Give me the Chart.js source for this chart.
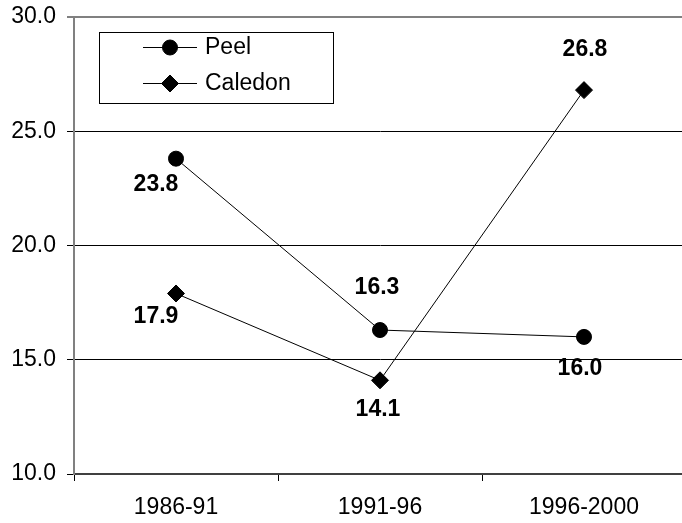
<!DOCTYPE html>
<html>
<head>
<meta charset="utf-8">
<script src="https://cdn.jsdelivr.net/npm/chart.js@4/dist/chart.umd.min.js"></script>
<style>
html, body { margin: 0; padding: 0; overflow: hidden; background: #fff; width: 682px; height: 523px; }
canvas { display: block; }
</style>
</head>
<body>
<canvas id="c" width="686" height="523" style="width:686px;height:523px"></canvas>
<script>
const categories = ["1986-91", "1991-96", "1996-2000"];
const peelValues = [23.8, 16.3, 16.0];
const caledonValues = [17.9, 14.1, 26.8];
const seriesNames = ["Peel", "Caledon"];
const yTicks = [10, 15, 20, 25, 30];

const FONT = "'Liberation Sans', Arial, sans-serif";
// label offsets (style only) per dataset, per point
const labelOffsets = [
  [[-20, 26], [-3, -42], [-4, 32]],
  [[-20, 23], [-2, 29], [1, -40]]
];

const dataLabels = {
  id: 'dataLabels',
  afterDatasetsDraw(chart) {
    const ctx = chart.ctx;
    ctx.save();
    ctx.font = "bold 23px " + FONT;
    ctx.fillStyle = '#000';
    ctx.textAlign = 'center';
    ctx.textBaseline = 'middle';
    chart.data.datasets.forEach((ds, di) => {
      const meta = chart.getDatasetMeta(di);
      meta.data.forEach((pt, i) => {
        const off = labelOffsets[di][i];
        ctx.fillText(ds.data[i].toFixed(1), pt.x + off[0], pt.y + off[1]);
      });
    });
    ctx.restore();
  }
};

const boxLegend = {
  id: 'boxLegend',
  afterDraw(chart) {
    const ctx = chart.ctx;
    ctx.save();
    ctx.fillStyle = '#fff';
    ctx.fillRect(99.5, 32.5, 234, 71);
    ctx.strokeStyle = '#000';
    ctx.lineWidth = 1;
    ctx.strokeRect(99.5, 32.5, 234, 71);
    const rows = [47, 83];
    chart.data.datasets.forEach((ds, di) => {
      const y = rows[di];
      ctx.beginPath();
      ctx.moveTo(143, y + 0.5);
      ctx.lineTo(197, y + 0.5);
      ctx.strokeStyle = '#000';
      ctx.lineWidth = 1;
      ctx.stroke();
      ctx.fillStyle = '#000';
      ctx.strokeStyle = '#000';
      Chart.helpers.drawPoint(ctx, {
        pointStyle: ds.pointStyle,
        radius: ds.pointRadius,
        borderWidth: 1
      }, 170, y + 0.5);
      ctx.font = "23px " + FONT;
      ctx.textAlign = 'left';
      ctx.textBaseline = 'middle';
      ctx.fillStyle = '#000';
      ctx.fillText(ds.label, 205, y + 1);
    });
    ctx.restore();
  }
};

new Chart(document.getElementById('c'), {
  type: 'line',
  data: {
    labels: categories,
    datasets: [
      {
        label: seriesNames[0],
        data: peelValues,
        borderColor: '#000',
        backgroundColor: '#000',
        borderWidth: 1,
        pointStyle: 'circle',
        pointRadius: 7.5,
        pointBackgroundColor: '#000',
        pointBorderColor: '#000',
        pointBorderWidth: 1,
        tension: 0
      },
      {
        label: seriesNames[1],
        data: caledonValues,
        borderColor: '#000',
        backgroundColor: '#000',
        borderWidth: 1,
        pointStyle: 'rectRot',
        pointRadius: 8.5,
        pointBackgroundColor: '#000',
        pointBorderColor: '#000',
        pointBorderWidth: 1,
        tension: 0
      }
    ]
  },
  options: {
    responsive: false,
    animation: false,
    events: [],
    layout: { autoPadding: false, padding: { top: 17, left: 0, right: 0, bottom: 0 } },
    plugins: {
      legend: { display: false },
      title: { display: false },
      tooltip: { enabled: false }
    },
    scales: {
      x: {
        type: 'category',
        offset: true,
        grid: {
          offset: true,
          drawOnChartArea: false,
          drawTicks: true,
          tickLength: 7,
          tickColor: '#000',
          tickWidth: 1
        },
        border: { display: true, color: '#404040', width: 2 },
        ticks: {
          color: '#000',
          font: { family: FONT, size: 23 },
          padding: 13,
          maxRotation: 0,
          autoSkip: false
        },
        afterFit(scale) { scale.height = 49; scale.paddingLeft = 0; scale.paddingRight = 0; }
      },
      y: {
        min: 10,
        max: 30,
        afterBuildTicks(scale) { scale.ticks = yTicks.map(v => ({ value: v })); },
        grid: {
          color: (c) => c.tick && c.tick.value === 30 ? '#808080' : (c.tick && c.tick.value === 10 ? 'rgba(0,0,0,0)' : '#000'),
          lineWidth: (c) => c.tick && c.tick.value === 30 ? 2 : 1,
          drawTicks: true,
          tickLength: 7,
          tickColor: '#000',
          tickWidth: 1
        },
        border: { display: true, color: '#808080', width: 2 },
        ticks: {
          color: '#000',
          font: { family: FONT, size: 23 },
          padding: 11,
          callback: (v) => Number(v).toFixed(1)
        },
        afterFit(scale) { scale.width = 74; scale.paddingTop = 0; scale.paddingBottom = 0; }
      }
    }
  },
  plugins: [dataLabels, boxLegend]
});
</script>
</body>
</html>
